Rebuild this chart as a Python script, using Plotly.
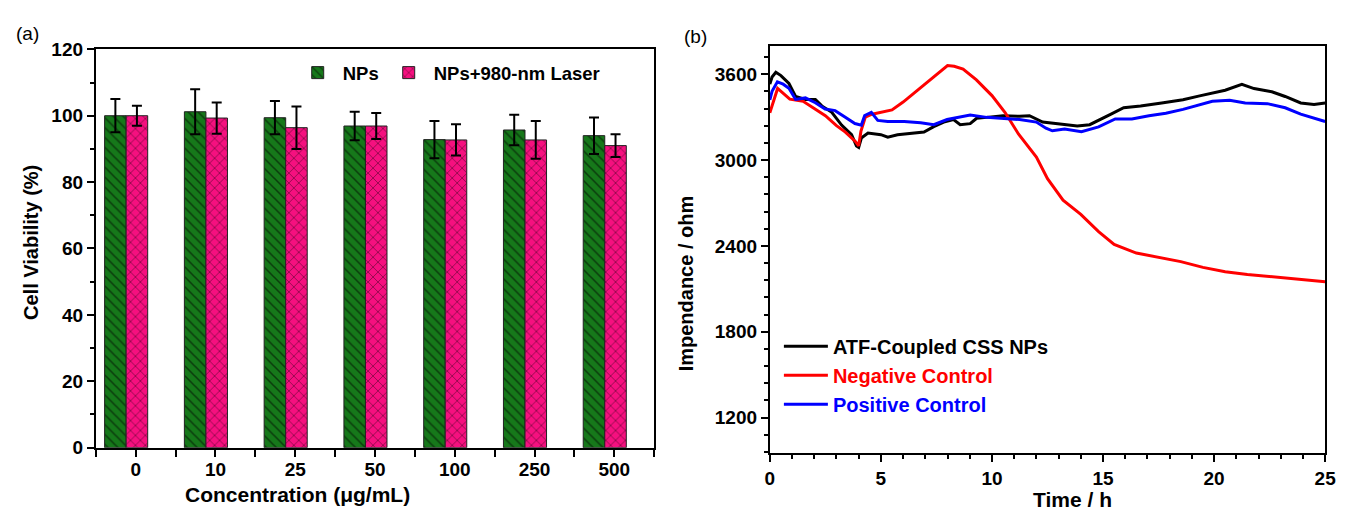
import plotly.graph_objects as go

# ---- (a) cell viability ----
categories = ["0", "10", "25", "50", "100", "250", "500"]
nps = [100.0, 101.2, 99.4, 96.9, 92.8, 95.7, 94.0]
nps_err = [5.0, 6.8, 5.0, 4.3, 5.6, 4.6, 5.5]
laser = [100.0, 99.3, 96.4, 96.9, 92.7, 92.7, 91.0]
laser_err = [3.0, 4.7, 6.4, 3.9, 4.7, 5.7, 3.4]

# ---- (b) impedance vs time ----
t_atf = [0, 0.1, 0.27, 0.5, 0.86, 1.16, 1.6, 2.05, 2.34, 2.79, 3.23, 3.68, 3.9, 4.0,
         4.12, 4.42, 5.0, 5.31, 5.75, 6.35, 6.94, 7.38, 7.83, 8.27, 8.57, 9.02, 9.31,
         9.76, 10.5, 11.24, 11.69, 12.28, 12.9, 13.84, 14.4, 14.8, 15.36, 15.93, 16.69,
         17.64, 18.6, 19.35, 19.92, 20.5, 21.25, 21.8, 22.6, 23.2, 23.9, 24.5, 25]
z_atf = [3530, 3580, 3613, 3590, 3535, 3445, 3423, 3423, 3378, 3333, 3244, 3177, 3098, 3088,
         3154, 3188, 3177, 3159, 3177, 3188, 3195, 3233, 3265, 3283, 3247, 3254, 3292,
         3298, 3310, 3305, 3310, 3265, 3254, 3238, 3247, 3276, 3321, 3365, 3377,
         3399, 3421, 3448, 3470, 3488, 3528, 3499, 3477, 3444, 3399, 3388, 3399]

t_neg = [0, 0.1, 0.35, 0.9, 1.5, 2.0, 2.5, 3.0, 3.4, 3.85, 4.0, 4.1, 4.3, 4.6, 5.0, 5.5,
         6.0, 6.5, 7.0, 7.5, 8.0, 8.3, 8.7, 9.3, 10.0, 10.6, 11.2, 12.0, 12.5, 13.2, 14.0,
         14.8, 15.5, 16.5, 17.5, 18.5, 19.5, 20.5, 21.5, 22.5, 23.5, 24.5, 25]
z_neg = [3330, 3380, 3500, 3425, 3410, 3360, 3310, 3240, 3195, 3130, 3100, 3200, 3300, 3320,
         3335, 3350, 3405, 3470, 3530, 3600, 3660, 3655, 3635, 3560, 3450, 3330, 3180, 3020,
         2870, 2720, 2620, 2500, 2410, 2350, 2320, 2290, 2250, 2220, 2200, 2185, 2175, 2160,
         2150]

t_pos = [0, 0.1, 0.34, 0.6, 0.86, 1.16, 1.6, 2.05, 2.49, 2.94, 3.38, 3.83, 4.12, 4.27, 4.57,
         4.86, 5.31, 6.05, 6.79, 7.38, 7.98, 8.57, 9.02, 9.76, 10.5, 11.24, 12.0, 12.43,
         12.72, 13.27, 14.03, 14.8, 15.55, 16.3, 17.07, 17.83, 18.6, 19.35, 19.92, 20.7,
         21.4, 22.4, 23.2, 23.9, 25]
z_pos = [3420, 3480, 3546, 3530, 3501, 3423, 3434, 3400, 3356, 3345, 3300, 3255, 3244, 3311,
         3333, 3277, 3270, 3270, 3261, 3247, 3283, 3298, 3314, 3298, 3292, 3283, 3265, 3222,
         3204, 3216, 3198, 3231, 3287, 3287, 3309, 3327, 3354, 3388, 3410, 3417, 3399, 3394,
         3365, 3321, 3269]

FONT = "Liberation Sans Narrow, Arial Narrow, Liberation Sans, Arial, sans-serif"
GREEN = "#16781a"
PINK = "#f5107f"

idx = list(range(len(categories)))

fig = go.Figure()

fig.add_trace(go.Bar(
    x=idx, y=nps, name="NPs", width=0.27, offset=-0.39,
    marker=dict(color=GREEN, line=dict(color="#222", width=1),
                pattern=dict(shape="\\", fgcolor="#000", size=7, solidity=0.22)),
    error_y=dict(type="data", array=nps_err, color="#000", thickness=2, width=5),
    xaxis="x", yaxis="y", legend="legend",
))
fig.add_trace(go.Bar(
    x=idx, y=laser, name="NPs+980-nm Laser", width=0.27, offset=-0.12,
    marker=dict(color=PINK, line=dict(color="#222", width=1),
                pattern=dict(shape="x", fgcolor="#000", size=7, solidity=0.2)),
    error_y=dict(type="data", array=laser_err, color="#000", thickness=2, width=5),
    xaxis="x", yaxis="y", legend="legend",
))

fig.add_trace(go.Scatter(
    x=t_atf, y=z_atf, mode="lines", line=dict(color="#000", width=3),
    name="<span style='color:#000'>ATF-Coupled CSS NPs</span>",
    xaxis="x2", yaxis="y2", legend="legend2",
))
fig.add_trace(go.Scatter(
    x=t_neg, y=z_neg, mode="lines", line=dict(color="#ff0000", width=3),
    name="<span style='color:#ff0000'>Negative Control</span>",
    xaxis="x2", yaxis="y2", legend="legend2",
))
fig.add_trace(go.Scatter(
    x=t_pos, y=z_pos, mode="lines", line=dict(color="#0000ff", width=3),
    name="<span style='color:#0000ff'>Positive Control</span>",
    xaxis="x2", yaxis="y2", legend="legend2",
))

tickfont = dict(family=FONT, size=19, color="#000", weight="bold")
axis_common = dict(showline=True, linecolor="#000", linewidth=2, mirror=True,
                   ticks="outside", tickcolor="#000", tickwidth=2, ticklen=7,
                   showgrid=False, zeroline=False, tickfont=tickfont)


def label(text, x, y, size=22, angle=0, bold=True, family=FONT):
    return dict(text=text, x=x / 1348, y=1 - y / 522, xref="paper", yref="paper",
                xanchor="center", yanchor="middle", showarrow=False, textangle=angle,
                font=dict(family=family, size=size, color="#000",
                          weight="bold" if bold else "normal"))


fig.update_layout(
    width=1348, height=522,
    margin=dict(l=0, r=0, t=0, b=0),
    paper_bgcolor="#fff", plot_bgcolor="#fff",
    barmode="overlay",
    xaxis=dict(domain=[0.0682, 0.4874], range=[-0.5, 6.5], tickmode="array",
               tickvals=idx, ticktext=categories, anchor="y", ticklabelstandoff=-3,
               minor=dict(tickmode="array", tickvals=[i - 0.5 for i in idx] + [6.5],
                          ticks="outside", ticklen=7, tickwidth=2, tickcolor="#000"),
               **axis_common),
    yaxis=dict(domain=[0.1264, 0.9215], range=[0, 120], dtick=20, anchor="x",
               minor=dict(dtick=10, ticks="outside", ticklen=4, tickwidth=2, tickcolor="#000"),
               **axis_common),
    xaxis2=dict(domain=[0.5742, 0.9911], range=[0, 25], dtick=5, anchor="y2",
                minor=dict(dtick=1, ticks="outside", ticklen=4, tickwidth=2, tickcolor="#000"),
                **axis_common),
    yaxis2=dict(domain=[0.1149, 0.9291], range=[950, 3800], tick0=1200, dtick=600,
                anchor="x2",
                minor=dict(tick0=1200, dtick=120, ticks="outside", ticklen=4, tickwidth=2,
                           tickcolor="#000"),
                **axis_common),
    legend=dict(x=0.216, y=0.912, xanchor="left", yanchor="top", orientation="h",
                bgcolor="rgba(0,0,0,0)", font=dict(family=FONT, size=18.5, color="#000",
                                                   weight="bold"),
                itemwidth=40, tracegroupgap=0),
    legend2=dict(x=0.581, y=0.368, xanchor="left", yanchor="top", orientation="v",
                 bgcolor="rgba(0,0,0,0)", font=dict(family=FONT, size=20, weight="bold"),
                 itemwidth=44, tracegroupgap=0),
    annotations=[
        label("(a)", 23, 24, size=19, bold=False, family="Liberation Sans, Arial"),
        label("(b)", 699, 28, size=19, bold=False, family="Liberation Sans, Arial"),
        label("Cell Viability (%)", 27, 242, size=20, angle=-90),
        label("Concentration (μg/mL)", 296, 505, size=21),
        label("Impendance / ohm", 689, 285, size=20, angle=-90),
        label("Time / h", 1080, 510, size=21),
    ],
)

fig.write_html("out.html")
